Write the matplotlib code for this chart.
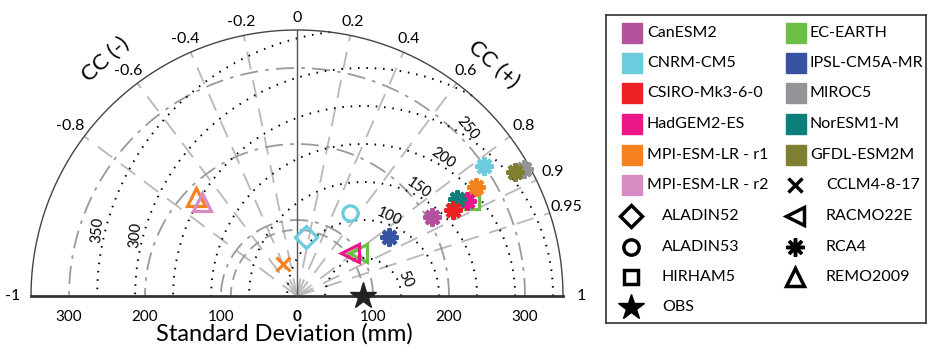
"""
Taylor diagram (full semicircle) of precipitation std / correlation for GCM-RCM runs.
"""
import numpy as np
import matplotlib.pyplot as plt
from matplotlib.patches import Rectangle

plt.rcParams['font.family'] = ['Lato', 'DejaVu Sans']

# ---- data -------------------------------------------------------------
gcm_names = ['CanESM2', 'CNRM-CM5', 'CSIRO-Mk3-6-0', 'HadGEM2-ES', 'MPI-ESM-LR - r1',
             'MPI-ESM-LR - r2', 'EC-EARTH', 'IPSL-CM5A-MR', 'MIROC5', 'NorESM1-M', 'GFDL-ESM2M']
gcm_colors = ['#b4519c', '#6ccbdc', '#ed2024', '#ec168b', '#f6821f',
              '#d68cc2', '#6cbf45', '#3953a4', '#929497', '#0c7f7b', '#7f7f32']

rcm_names = ['ALADIN52', 'ALADIN53', 'HIRHAM5', 'CCLM4-8-17', 'RACMO22E', 'RCA4', 'REMO2009']

# one entry per simulation: driving GCM, RCM, std (mm), correlation
run_gcm = ['MIROC5', 'GFDL-ESM2M', 'CNRM-CM5', 'EC-EARTH', 'MPI-ESM-LR - r1', 'HadGEM2-ES',
           'NorESM1-M', 'CSIRO-Mk3-6-0', 'CanESM2', 'IPSL-CM5A-MR', 'CNRM-CM5', 'CNRM-CM5',
           'EC-EARTH', 'HadGEM2-ES', 'MPI-ESM-LR - r1', 'MPI-ESM-LR - r1', 'MPI-ESM-LR - r2']
run_rcm = ['RCA4', 'RCA4', 'RCA4', 'HIRHAM5', 'RCA4', 'RCA4',
           'RCA4', 'RCA4', 'RCA4', 'RCA4', 'ALADIN53', 'ALADIN52',
           'RACMO22E', 'RACMO22E', 'CCLM4-8-17', 'REMO2009', 'REMO2009']
run_std = [342, 330, 300, 261, 276, 256, 246, 234, 206, 144, 130, 78.5, 98, 90, 46, 186, 176]
run_cc = [0.873, 0.870, 0.822, 0.880, 0.854, 0.873, 0.855, 0.876, 0.863, 0.840, 0.54, 0.15,
          0.816, 0.777, -0.39, -0.715, -0.71]

obs_std = 87

cc_pos = [0.2, 0.4, 0.6, 0.8, 0.9, 0.95]
cc_neg = [-0.2, -0.4, -0.6, -0.8]
std_ticks = [100, 200, 300]
rms_levels = [50, 100, 150, 200, 250, 300, 350]
max_std = 350

# ---- styles -------------------------------------------------------------
rcm_marker = {'ALADIN52': 'D', 'ALADIN53': 'o', 'HIRHAM5': 's', 'CCLM4-8-17': 'x',
              'RACMO22E': '<', 'RCA4': (8, 2, 0), 'REMO2009': '^'}
rcm_size = {'ALADIN52': 11, 'ALADIN53': 11, 'HIRHAM5': 10, 'CCLM4-8-17': 10,
            'RACMO22E': 13, 'RCA4': 13, 'REMO2009': 13}
color_of = dict(zip(gcm_names, gcm_colors))

fig = plt.figure(figsize=(9.29, 3.5), dpi=100)
ax = fig.add_axes([8.2 / 929, 46.4 / 350, 577.6 / 929, 288.8 / 350])
ax.set_xlim(-380, 380)
ax.set_ylim(-10, 370)
ax.axis('off')

t = np.linspace(0, np.pi, 400)

# correlation rays
for c in cc_pos + cc_neg:
    a = np.arccos(c)
    ax.plot([0, max_std * np.cos(a)], [0, max_std * np.sin(a)], color='#b8b8b8',
            lw=1.3, ls=(0, (10, 6)), zorder=1)

# std circles around origin
for s in std_ticks:
    ax.plot(s * np.cos(t), s * np.sin(t), color='#9a9a9a', lw=1.3,
            ls=(0, (10, 4, 2, 4)), zorder=1)
ax.plot(obs_std * np.cos(t), obs_std * np.sin(t), color='#9a9a9a', lw=1.3,
        ls=(0, (6, 4)), zorder=1)

# RMSD contours around OBS
tt = np.linspace(0, np.pi, 1500)
rms_label_ang = {50: 22, 100: 72, 150: 63, 200: 60, 250: 58, 300: 165, 350: 166}
rms_label_rot = {50: -65, 100: -25, 150: -35, 200: -35, 250: -50, 300: 85, 350: 85}
for r in rms_levels:
    x = obs_std + r * np.cos(tt)
    y = r * np.sin(tt)
    inside = np.hypot(x, y) <= max_std
    x = np.where(inside, x, np.nan)
    y = np.where(inside, y, np.nan)
    ax.plot(x, y, color='black', lw=1.4, ls=(0, (0.8, 3.5)), zorder=2)
    a = np.deg2rad(rms_label_ang[r])
    rr = r + 10
    ax.text(obs_std + rr * np.cos(a), rr * np.sin(a), str(r), fontsize=10.5,
            rotation=rms_label_rot[r], ha='center', va='center', zorder=3)

# frame
ax.plot(max_std * np.cos(t), max_std * np.sin(t), color='#444444', lw=1.0, zorder=4)
ax.plot([-max_std, max_std], [0, 0], color='#333333', lw=2.0, zorder=4)
ax.plot([0, 0], [0, max_std], color='#555555', lw=1.0, zorder=4)

# correlation labels
for c in cc_neg + [0.0] + cc_pos + [-1.0, 1.0]:
    a = np.arccos(c)
    rr = 366 + 8 * abs(np.cos(a))
    ax.text(rr * np.cos(a), rr * np.sin(a), '%g' % c, fontsize=11.5, ha='center',
            va='center', clip_on=False)
ax.text(400 * np.cos(np.deg2rad(49.6)), 400 * np.sin(np.deg2rad(49.6)), 'CC (+)',
        fontsize=16, rotation=-42, ha='center', va='center', clip_on=False)
ax.text(400 * np.cos(np.deg2rad(129)), 400 * np.sin(np.deg2rad(129)), 'CC (-)',
        fontsize=16, rotation=42, ha='center', va='center', clip_on=False)

# std axis labels
for s in [-300, -200, -100, 0, 100, 200, 300]:
    ax.text(s, -27, str(abs(s)), fontsize=11, ha='center', va='center',
            fontweight='bold' if s == 0 else 'normal', clip_on=False)
ax.text(-16, -50, 'Standard Deviation (mm)', fontsize=17, ha='center', va='center',
        clip_on=False)

# simulations
for g, m, s, c in zip(run_gcm, run_rcm, run_std, run_cc):
    a = np.arccos(c)
    col = color_of[g]
    filled = m == 'RCA4'
    ax.plot(s * np.cos(a), s * np.sin(a), marker=rcm_marker[m], ms=rcm_size[m],
            mec=col, mfc=col if filled else 'none', mew=3 if filled else 2.3,
            ls='none', zorder=6, clip_on=False)

ax.plot(obs_std, 0, marker='*', ms=20, color='#222222', ls='none', zorder=7, clip_on=False)

# ---- legend -----------------------------------------------------------
lg = fig.add_axes([606 / 929, 27 / 350, 320 / 929, 308 / 350])
lg.set_xlim(606, 926)
lg.set_ylim(323, 15)
lg.set_xticks([])
lg.set_yticks([])
for sp in lg.spines.values():
    sp.set_color('#333333')
    sp.set_linewidth(1.2)

col1 = gcm_names[:6]
col2 = gcm_names[6:]
row_y = [33, 63, 93, 124, 155, 185, 216, 247, 277, 307]
for i, g in enumerate(col1):
    lg.add_patch(Rectangle((622, row_y[i] - 10), 20, 20, color=color_of[g]))
    lg.text(647, row_y[i], g, fontsize=11.5, va='center')
for i, g in enumerate(col2):
    lg.add_patch(Rectangle((786, row_y[i] - 10), 20, 20, color=color_of[g]))
    lg.text(810, row_y[i], g, fontsize=11.5, va='center')

left_rcms = ['ALADIN52', 'ALADIN53', 'HIRHAM5']
right_rcms = ['CCLM4-8-17', 'RACMO22E', 'RCA4', 'REMO2009']
for i, m in enumerate(left_rcms):
    y = row_y[6 + i]
    lg.plot(631, y, marker=rcm_marker[m], ms=rcm_size[m], mec='black', mfc='none',
            mew=2.5, ls='none')
    lg.text(662, y, m, fontsize=11.5, va='center')
for i, m in enumerate(right_rcms):
    y = row_y[5 + i]
    lg.plot(795, y, marker=rcm_marker[m], ms=rcm_size[m], mec='black', mfc='none',
            mew=2.5, ls='none')
    lg.text(826, y, m, fontsize=11.5, va='center')
lg.plot(631, row_y[9], marker='*', ms=19, color='black', ls='none')
lg.text(662, row_y[9], 'OBS', fontsize=11.5, va='center')

fig.savefig('out.png', dpi=100)
